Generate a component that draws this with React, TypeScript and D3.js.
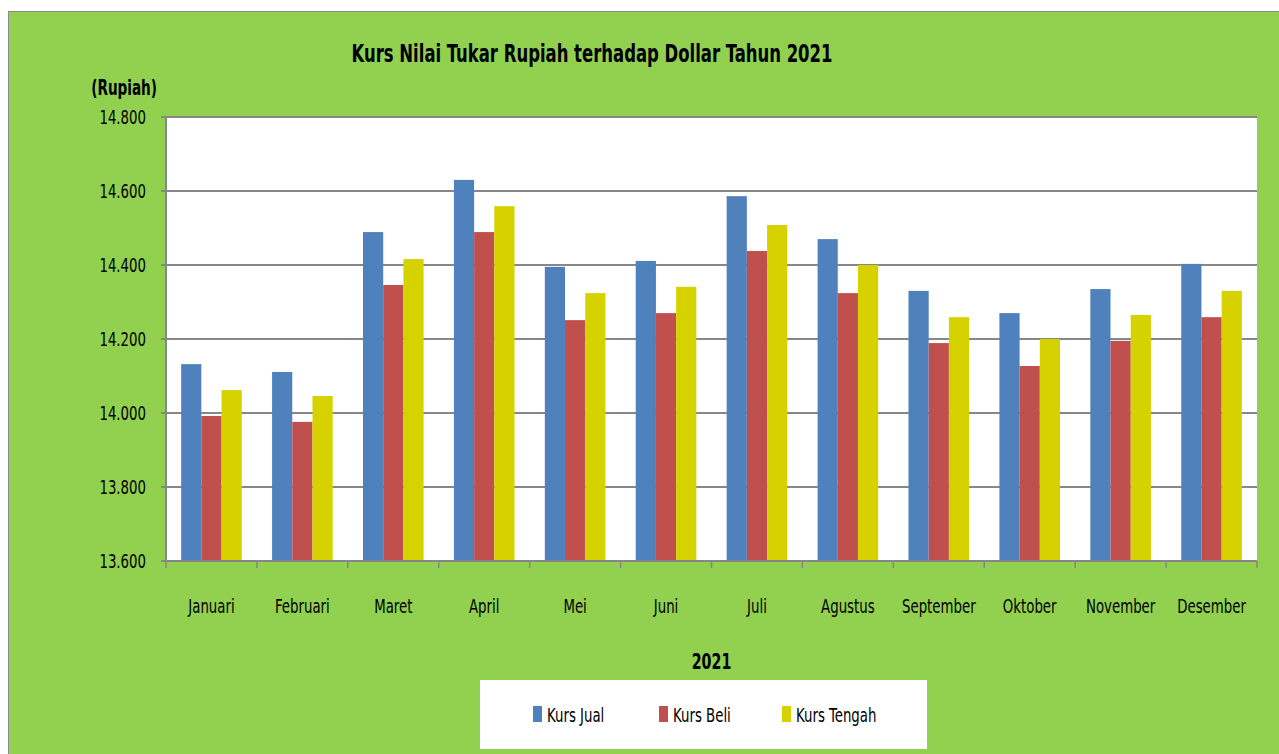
import React from "react";
import * as d3 from "d3";

// data
const months = [
  "Januari",
  "Februari",
  "Maret",
  "April",
  "Mei",
  "Juni",
  "Juli",
  "Agustus",
  "September",
  "Oktober",
  "November",
  "Desember"
];
const kursJual = [14132, 14111, 14489, 14630, 14395, 14411, 14586, 14470, 14330, 14270, 14335, 14403];
const kursBeli = [13992, 13976, 14346, 14489, 14251, 14270, 14438, 14324, 14189, 14127, 14195, 14259];
const kursTengah = [14062, 14046, 14416, 14559, 14324, 14341, 14508, 14400, 14259, 14200, 14265, 14330];
const seriesNames = ["Kurs Jual", "Kurs Beli", "Kurs Tengah"];
const seriesColors = ["#4F81BD", "#C0504D", "#D6D200"];
const yTicks = [13600, 13800, 14000, 14200, 14400, 14600, 14800];

const W = 1279;
const H = 754;
const plot = { left: 166, right: 1257, top: 117, bottom: 561 };
const font = "'DejaVu Sans Condensed', 'DejaVu Sans', sans-serif";

const idLocale = d3.formatLocale({
  decimal: ",",
  thousands: ".",
  grouping: [3],
  currency: ["Rp", ""]
});
const fmt = idLocale.format(",");

// squeezed text, the original uses a narrow font
const NText = ({ x, y, sx = 0.78, anchor = "start", size = 19, bold = false, children }: any) => (
  <text
    transform={`translate(${x},${y}) scale(${sx},1)`}
    dy="0.35em"
    textAnchor={anchor}
    fontFamily={font}
    fontWeight={bold ? "bold" : "normal"}
    fontSize={size}
    fill="#000"
  >
    {children}
  </text>
);

const App = () => {
  const seriesValues = [kursJual, kursBeli, kursTengah];

  const y = d3.scaleLinear().domain([13600, 14800]).range([plot.bottom, plot.top]);
  const x0 = d3
    .scaleBand()
    .domain(months)
    .range([plot.left, plot.right])
    .paddingInner(1 / 3)
    .paddingOuter(1 / 6);
  const x1 = d3.scaleBand().domain(seriesNames).range([0, x0.bandwidth()]);
  const gap = (x0.step() - x0.bandwidth()) / 2;
  const catTicks = months.map(m => (x0(m) as number) - gap).concat([plot.right]);

  const legendX = [533, 659, 782];

  return (
    <svg width={W} height={H} style={{ position: "fixed", left: 0, top: 0, display: "block" }}>
      <rect x={0} y={0} width={W} height={H} fill="#ffffff" />
      <rect x={8.5} y={11.5} width={W} height={H} fill="#92D050" stroke="#8c8c8c" strokeWidth={1} />

      <text
        x={592}
        y={62}
        textAnchor="middle"
        fontFamily={font}
        fontWeight="bold"
        fontSize={24}
        fill="#000"
        textLength={481}
        lengthAdjust="spacingAndGlyphs"
      >
        Kurs Nilai Tukar Rupiah terhadap Dollar Tahun 2021
      </text>
      <NText x={157} y={88} anchor="end" size={21} bold sx={0.72}>
        (Rupiah)
      </NText>

      <rect
        x={plot.left}
        y={plot.top}
        width={plot.right - plot.left}
        height={plot.bottom - plot.top}
        fill="#ffffff"
      />

      {/* gridlines + y ticks */}
      {yTicks.map(t => (
        <g key={t}>
          <line x1={plot.left - 5} x2={plot.right} y1={y(t)} y2={y(t)} stroke="#878787" strokeWidth={2} />
          <NText x={146} y={y(t)} anchor="end">
            {fmt(t)}
          </NText>
        </g>
      ))}

      {/* bars */}
      {months.map((m, i) => (
        <g key={m} transform={`translate(${x0(m)},0)`}>
          {seriesNames.map((s, j) => (
            <rect
              key={s}
              x={x1(s)}
              y={y(seriesValues[j][i])}
              width={x1.bandwidth()}
              height={plot.bottom - y(seriesValues[j][i])}
              fill={seriesColors[j]}
            />
          ))}
        </g>
      ))}

      {/* axes */}
      <line x1={plot.left} x2={plot.left} y1={plot.top} y2={plot.bottom} stroke="#878787" strokeWidth={2} />
      <line x1={plot.left} x2={plot.right} y1={plot.bottom} y2={plot.bottom} stroke="#878787" strokeWidth={2} />
      {catTicks.map((t, i) => (
        <line key={i} x1={t} x2={t} y1={plot.bottom} y2={plot.bottom + 7} stroke="#878787" strokeWidth={1.5} />
      ))}
      {months.map(m => (
        <NText key={m} x={(x0(m) as number) + x0.bandwidth() / 2} y={606} anchor="middle">
          {m}
        </NText>
      ))}

      <NText x={(plot.left + plot.right) / 2} y={661} anchor="middle" size={22} bold sx={0.72}>
        2021
      </NText>

      {/* legend */}
      <rect x={480} y={680} width={447} height={69} fill="#ffffff" />
      {seriesNames.map((s, j) => (
        <g key={s}>
          <rect x={legendX[j]} y={706} width={9} height={16} fill={seriesColors[j]} />
          <NText x={legendX[j] + 14} y={715}>
            {s}
          </NText>
        </g>
      ))}
    </svg>
  );
};

export default App;
